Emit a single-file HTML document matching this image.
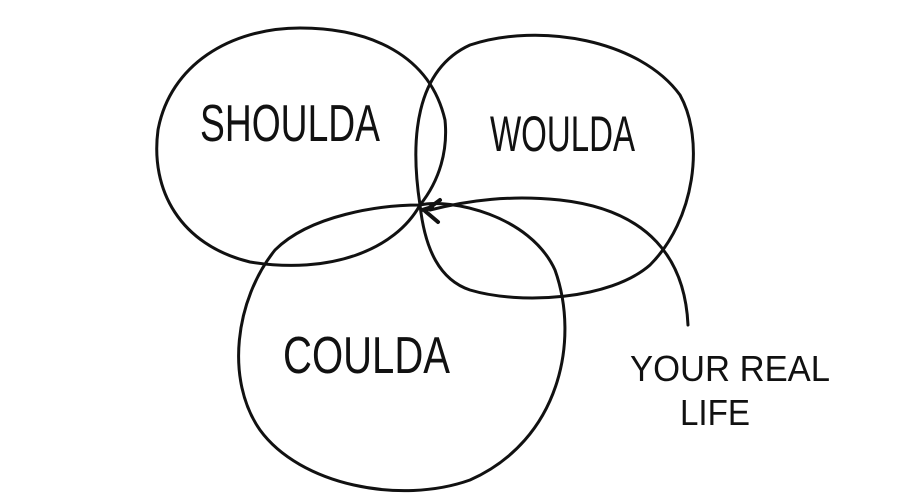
<!DOCTYPE html>
<html><head><meta charset="utf-8"><style>
html,body{margin:0;padding:0;background:#fff;}
svg{display:block;}
text{font-family:"Liberation Sans",sans-serif;fill:#111;}
</style></head><body>
<svg width="905" height="501" viewBox="0 0 905 501" xmlns="http://www.w3.org/2000/svg">
<g fill="none" stroke="#111" stroke-width="3" stroke-linecap="round">
<path d="M420,205 C395,250 330,275 250,262 C180,245 150,190 158,130 C170,65 230,28 300,28 C370,28 430,55 445,120 C448,150 440,180 420,205"/>
<path d="M420,205 C410,140 415,70 470,45 C540,22 640,40 680,95 C705,140 695,220 650,265 C610,300 520,305 470,290 C440,280 425,250 420,205"/>
<path d="M420,205 C450,198 530,215 555,270 C580,340 560,440 470,480 C400,505 300,485 260,430 C225,380 235,300 275,250 C310,215 380,205 420,205"/>
<path d="M688,325 C685,260 650,210 560,200 C510,195 470,200 430,210"/>
<path d="M425,211 L440,200 M425,211 L438,222 M422,210 L432,207" stroke-width="4"/>
</g>
<text x="200" y="141" font-size="52" textLength="180" lengthAdjust="spacingAndGlyphs">SHOULDA</text>
<text x="490" y="151" font-size="50" textLength="145" lengthAdjust="spacingAndGlyphs">WOULDA</text>
<text x="283" y="373" font-size="52" textLength="167" lengthAdjust="spacingAndGlyphs">COULDA</text>
<text x="630" y="381" font-size="36" textLength="200" lengthAdjust="spacingAndGlyphs">YOUR REAL</text>
<text x="680" y="425" font-size="36" textLength="70" lengthAdjust="spacingAndGlyphs">LIFE</text>
</svg>
</body></html>
